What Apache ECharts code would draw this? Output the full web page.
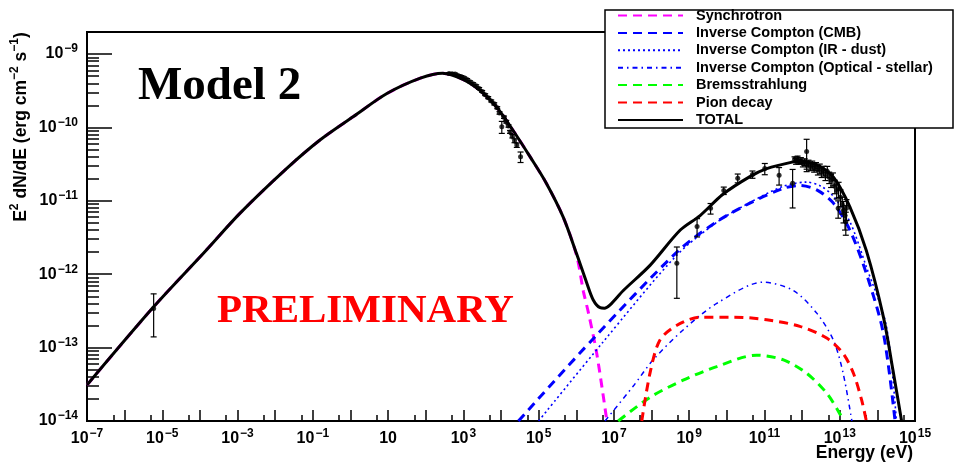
<!DOCTYPE html>
<html>
<head>
<meta charset="utf-8">
<script src="https://cdn.jsdelivr.net/npm/echarts@6/dist/echarts.min.js"></script>
<style>
  html, body { margin: 0; padding: 0; background: #fff; }
  #chart { width: 955px; height: 463px; }
</style>
</head>
<body>
<div id="chart"></div>
<script>
// Spectral energy distribution, model 2: energy in eV, E^2 dN/dE in erg cm^-2 s^-1

// Total model
const energyTotal = [1e-7, 5.9e-6, 1.26e-4, 1.17e-3, 2.0e-2, 0.158, 1.2, 9.3, 72, 280, 1000, 2750, 7600, 2.1e4, 5.9e4, 1.6e5, 4.5e5, 1.02e6, 1.9e6, 2.8e6, 4.3e6, 5.6e6, 7.8e6, 1.78e7, 9.1e7, 5.8e8, 1.95e9, 7.9e9, 4.1e10, 1.15e11, 5.8e11, 8.7e11, 2.45e12, 6.8e12, 1.86e13, 5.1e13, 1.45e14, 2.6e14, 4.4e14];
const fluxTotal = [3.1e-14, 3.6e-13, 1.95e-12, 6.8e-12, 2.75e-11, 6.8e-11, 1.41e-10, 2.9e-10, 4.7e-10, 5.5e-10, 4.5e-10, 3.2e-10, 1.9e-10, 9.1e-11, 4.0e-11, 1.74e-11, 6.0e-12, 1.9e-12, 7.6e-13, 4.5e-13, 3.5e-13, 3.45e-13, 3.8e-13, 6.0e-13, 1.32e-12, 4.0e-12, 6.3e-12, 1.23e-11, 2.14e-11, 2.75e-11, 3.4e-11, 3.45e-11, 3.1e-11, 2.1e-11, 8.3e-12, 2.1e-12, 2.6e-13, 4.9e-14, 1e-14];

// Synchrotron
const energySync = [1e-7, 5.9e-6, 1.26e-4, 1.17e-3, 2.0e-2, 0.158, 1.2, 9.3, 72, 280, 1000, 2750, 7600, 2.1e4, 5.9e4, 1.6e5, 4.5e5, 1.02e6, 1.55e6, 2.1e6, 3.5e6, 6.5e6];
const fluxSync = [3.1e-14, 3.6e-13, 1.95e-12, 6.8e-12, 2.75e-11, 6.8e-11, 1.41e-10, 2.9e-10, 4.7e-10, 5.5e-10, 4.5e-10, 3.2e-10, 1.9e-10, 9.1e-11, 4.0e-11, 1.74e-11, 6.0e-12, 1.8e-12, 5.8e-13, 3.0e-13, 8.3e-14, 1e-14];

// Inverse Compton on CMB
const energyCMB = [2.9e4, 3.16e6, 4.7e8, 5.4e9, 4.1e10, 3.2e11, 8.7e11, 2.45e12, 6.8e12, 1.86e13, 5.1e13, 1.45e14, 2.95e14];
const fluxCMB = [1e-14, 1.41e-13, 2.0e-12, 5.2e-12, 9.3e-12, 1.48e-11, 1.62e-11, 1.41e-11, 9.3e-12, 4.0e-12, 1.02e-12, 1.55e-13, 1e-14];

// Inverse Compton on IR dust photons
const energyIR = [1e5, 5.2e6, 4.6e8, 5.4e9, 4.1e10, 3.2e11, 1.32e12, 3.2e12, 6.8e12, 1.86e13, 5.1e13, 1.74e14, 3.2e14];
const fluxIR = [1e-14, 1.2e-13, 1.8e-12, 5.1e-12, 9.5e-12, 1.58e-11, 1.8e-11, 1.58e-11, 1.15e-11, 5.2e-12, 1.26e-12, 1.95e-13, 1e-14];

// Inverse Compton on optical stellar photons
const energyOpt = [5.8e6, 3.2e7, 1.1e8, 6.9e8, 5.4e9, 9.3e10, 5.8e11, 2.45e12, 6.8e12, 1.23e13, 2.1e13];
const fluxOpt = [1e-14, 2.95e-14, 6.8e-14, 1.74e-13, 4.0e-13, 7.8e-13, 6.0e-13, 2.95e-13, 1.26e-13, 4.5e-14, 1e-14];

// Bremsstrahlung
const energyBrems = [1.3e7, 9.1e7, 6.9e8, 5.4e9, 6.2e10, 3.2e11, 1.3e12, 4.5e12, 1e13, 1.23e13];
const fluxBrems = [1e-14, 2.1e-14, 3.6e-14, 5.5e-14, 7.9e-14, 6.8e-14, 4.5e-14, 2.4e-14, 1.26e-14, 1e-14];

// Pion decay
const energyPion = [5.5e7, 9.1e7, 1.66e8, 4.6e8, 1.95e9, 1.5e10, 1.15e11, 8.7e11, 4.5e12, 1.23e13, 2.3e13, 3.8e13, 5.1e13];
const fluxPion = [1e-14, 4.5e-14, 1.26e-13, 2.0e-13, 2.6e-13, 2.6e-13, 2.4e-13, 1.95e-13, 1.35e-13, 8.3e-14, 4.5e-14, 1.95e-14, 1e-14];

// Measurements: energy, flux, 1-sigma error
const radioE = [5.9e-6];
const radioF = [3.4e-13];
const radioErr = [2.0e-13];

const xrayE = [417, 501, 603, 724, 871, 1050, 1260, 1510, 1820, 2190, 2630, 3160, 3800, 4570, 5500, 6610, 7940, 9120, 10500, 12000, 13800, 15800, 17400, 20000, 22900, 26300, 33100];
const xrayF = [5.45e-10, 5.4e-10, 5.35e-10, 5.1e-10, 4.95e-10, 4.75e-10, 4.5e-10, 4.2e-10, 3.95e-10, 3.7e-10, 3.4e-10, 3.1e-10, 2.8e-10, 2.55e-10, 2.3e-10, 2.1e-10, 1.86e-10, 1.58e-10, 1.02e-10, 1.38e-10, 1.20e-10, 1.05e-10, 8.7e-11, 7.6e-11, 6.6e-11, 5.75e-11, 3.98e-11];
const xrayErr = [1.5e-11, 1.5e-11, 1.5e-11, 1.4e-11, 1.4e-11, 1.3e-11, 1.3e-11, 1.2e-11, 1.2e-11, 1.1e-11, 1.0e-11, 9e-12, 8e-12, 8e-12, 7e-12, 7e-12, 6e-12, 6e-12, 1.9e-11, 5e-12, 5e-12, 4e-12, 4e-12, 4e-12, 4e-12, 4e-12, 6.5e-12];

const gammaE = [4.7e8, 1.62e9, 3.7e9, 8.3e9, 1.95e10, 4.8e10, 1.02e11, 2.45e11, 5.6e11, 1.32e12];
const gammaF = [1.41e-12, 4.47e-12, 7.9e-12, 1.38e-11, 2.04e-11, 2.29e-11, 2.75e-11, 2.24e-11, 1.74e-11, 4.7e-11];
const gammaErr = [9.4e-13, 1.25e-12, 1.3e-12, 1.6e-12, 2.8e-12, 2.6e-12, 4.8e-12, 6e-12, 9.4e-12, 2.2e-11];

const tevE = [6.3e11, 6.9e11, 7.6e11, 8.3e11, 9.3e11, 1.05e12, 1.17e12, 1.32e12, 1.48e12, 1.66e12, 1.86e12, 2.09e12, 2.34e12, 2.63e12, 2.95e12, 3.31e12, 3.72e12, 4.17e12, 4.68e12, 5.25e12, 5.89e12, 6.61e12, 7.41e12, 8.32e12, 9.1e12, 9.33e12, 1.05e13, 1.17e13, 1.26e13, 1.38e13, 1.45e13, 1.51e13];
const tevF = [3.72e-11, 3.47e-11, 3.8e-11, 3.39e-11, 3.55e-11, 3.24e-11, 3.39e-11, 3.09e-11, 3.24e-11, 2.95e-11, 3.09e-11, 2.82e-11, 2.95e-11, 2.63e-11, 2.75e-11, 2.45e-11, 2.57e-11, 2.29e-11, 2.51e-11, 2.09e-11, 1.91e-11, 2.0e-11, 1.58e-11, 1.38e-11, 7.9e-12, 1.45e-11, 1.12e-11, 8.9e-12, 7.4e-12, 6.3e-12, 5.2e-12, 7.9e-12];
const tevErr = [2.6e-12, 3.2e-12, 2.7e-12, 2.4e-12, 3.3e-12, 3.4e-12, 3.5e-12, 3.9e-12, 3.4e-12, 3.7e-12, 3.9e-12, 3.6e-12, 3.7e-12, 3.8e-12, 4.2e-12, 3.7e-12, 3.9e-12, 4.0e-12, 4.4e-12, 3.7e-12, 3.9e-12, 4.0e-12, 3.3e-12, 3.2e-12, 2.1e-12, 3.4e-12, 2.9e-12, 2.3e-12, 2.4e-12, 2.3e-12, 1.8e-12, 2.5e-12];

// Axis ticks
const xMajorTicks = [1e-7, 1e-6, 1e-5, 1e-4, 1e-3, 1e-2, 1e-1, 1, 10, 100, 1e3, 1e4, 1e5, 1e6, 1e7, 1e8, 1e9, 1e10, 1e11, 1e12, 1e13, 1e14, 1e15];
const xMinorTicks = [5e-7, 5e-6, 5e-5, 5e-4, 5e-3, 5e-2, 0.5, 5, 50, 500, 5e3, 5e4, 5e5, 5e6, 5e7, 5e8, 5e9, 5e10, 5e11, 5e12, 5e13, 5e14];
const xTickLabels = [1e-7, 1e-5, 1e-3, 1e-1, 10, 1e3, 1e5, 1e7, 1e9, 1e11, 1e13, 1e15];
const yMajorTicks = [1e-14, 1e-13, 1e-12, 1e-11, 1e-10, 1e-9];
const yMinorTicks = [
  2e-14, 3e-14, 4e-14, 5e-14, 6e-14, 7e-14, 8e-14, 9e-14,
  2e-13, 3e-13, 4e-13, 5e-13, 6e-13, 7e-13, 8e-13, 9e-13,
  2e-12, 3e-12, 4e-12, 5e-12, 6e-12, 7e-12, 8e-12, 9e-12,
  2e-11, 3e-11, 4e-11, 5e-11, 6e-11, 7e-11, 8e-11, 9e-11,
  2e-10, 3e-10, 4e-10, 5e-10, 6e-10, 7e-10, 8e-10, 9e-10
];
const yTickLabels = [1e-14, 1e-13, 1e-12, 1e-11, 1e-10, 1e-9];

// Axis ranges (edges nudged so the end ticks survive rounding)
const xRange = [1e-7, 1.0000001e15];
const yRange = [0.9999999e-14, 2e-9];

const FONT = 'Liberation Sans';

function pairs(xs, ys) { return xs.map((x, i) => [x, ys[i]]); }
function bars(xs, ys, es) { return xs.map((x, i) => [x, ys[i] - es[i], ys[i] + es[i]]); }

function powerLabel(v) {
  const n = Math.round(Math.log10(v));
  if (n === 1) return '{b|10}';
  return '{b|10}{s|' + (n < 0 ? '\u2212' : '') + Math.abs(n) + '}';
}
const labelRich = {
  b: { fontFamily: FONT, fontWeight: 'bold', fontSize: 16, lineHeight: 22, color: '#000' },
  s: { fontFamily: FONT, fontWeight: 'bold', fontSize: 12, lineHeight: 11, verticalAlign: 'top', color: '#000', padding: [0, 0, 0, 1] }
};

function errorBarItem(params, api) {
  const x = api.value(0);
  const top = api.coord([x, api.value(2)]);
  const bot = api.coord([x, api.value(1)]);
  const cap = 3;
  const st = { stroke: '#000', lineWidth: 1.2 };
  return {
    type: 'group',
    children: [
      { type: 'line', shape: { x1: top[0], y1: top[1], x2: bot[0], y2: bot[1] }, style: st },
      { type: 'line', shape: { x1: top[0] - cap, y1: top[1], x2: top[0] + cap, y2: top[1] }, style: st },
      { type: 'line', shape: { x1: bot[0] - cap, y1: bot[1], x2: bot[0] + cap, y2: bot[1] }, style: st }
    ]
  };
}

function modelLine(name, xs, ys, color, width, type, z) {
  return {
    name: name, type: 'line', data: pairs(xs, ys), symbol: 'none', smooth: 0.3,
    clip: true, z: z,
    lineStyle: { color: color, width: width, type: type },
    itemStyle: { color: color }
  };
}

const allE = radioE.concat(xrayE, gammaE, tevE);
const allF = radioF.concat(xrayF, gammaF, tevF);
const allErr = radioErr.concat(xrayErr, gammaErr, tevErr);

const chart = echarts.init(document.getElementById('chart'), null, { renderer: 'canvas' });
chart.setOption({
  animation: false,
  backgroundColor: '#fff',
  grid: { left: 87, right: 40, top: 32, bottom: 42, show: true, borderColor: '#000', borderWidth: 2, backgroundColor: '#fff' },
  xAxis: [
    {
      type: 'log', logBase: 10, min: xRange[0], max: xRange[1], position: 'bottom',
      axisLine: { show: true, lineStyle: { color: '#000', width: 2 } },
      axisTick: { show: true, inside: true, length: 11, customValues: xMajorTicks, lineStyle: { color: '#000', width: 1.5 } },
      axisLabel: { show: true, margin: 7, customValues: xTickLabels, formatter: powerLabel, rich: labelRich, hideOverlap: false },
      splitLine: { show: false }, minorTick: { show: false }
    },
    {
      type: 'log', logBase: 10, min: xRange[0], max: xRange[1], position: 'bottom',
      axisLine: { show: false },
      axisTick: { show: true, inside: true, length: 6, customValues: xMinorTicks, lineStyle: { color: '#000', width: 1.5 } },
      axisLabel: { show: false }, splitLine: { show: false }
    }
  ],
  yAxis: [
    {
      type: 'log', logBase: 10, min: yRange[0], max: yRange[1], position: 'left',
      axisLine: { show: true, lineStyle: { color: '#000', width: 2 } },
      axisTick: { show: true, inside: true, length: 25, customValues: yMajorTicks, lineStyle: { color: '#000', width: 1.5 } },
      axisLabel: { show: true, margin: 9, customValues: yTickLabels, formatter: powerLabel, rich: labelRich },
      splitLine: { show: false }, minorTick: { show: false }
    },
    {
      type: 'log', logBase: 10, min: yRange[0], max: yRange[1], position: 'left',
      axisLine: { show: false },
      axisTick: { show: true, inside: true, length: 12, customValues: yMinorTicks, lineStyle: { color: '#000', width: 1.5 } },
      axisLabel: { show: false }, splitLine: { show: false }
    }
  ],
  legend: {
    left: 617, top: 8, orient: 'vertical', padding: 0,
    itemWidth: 65, itemHeight: 14, itemGap: 2.4, selectedMode: false, z: 11,
    itemStyle: { opacity: 0 },
    data: ['Synchrotron', 'Inverse Compton (CMB)', 'Inverse Compton (IR - dust)', 'Inverse Compton (Optical - stellar)', 'Bremsstrahlung', 'Pion decay', 'TOTAL'],
    textStyle: { fontFamily: FONT, fontWeight: 'bold', fontSize: 14.5, color: '#000', lineHeight: 14, padding: [0, 0, 0, 8] }
  },
  graphic: [
    { type: 'rect', z: 10, shape: { x: 605, y: 10, width: 348, height: 118 }, style: { fill: '#fff', stroke: '#000', lineWidth: 1.5 } },
    { type: 'text', z: 10, x: 138, y: 87, style: { text: 'Model 2', fontFamily: 'Liberation Serif', fontWeight: 'bold', fontSize: 47, fill: '#000', verticalAlign: 'middle' } },
    { type: 'text', z: 10, x: 217, y: 311, style: { text: 'PRELIMINARY', fontFamily: 'Liberation Serif', fontWeight: 'bold', fontSize: 41, fill: '#ff0000', verticalAlign: 'middle' } },
    { type: 'text', z: 10, x: 913, y: 453, style: { text: 'Energy (eV)', fontFamily: FONT, fontWeight: 'bold', fontSize: 17.5, fill: '#000', align: 'right', verticalAlign: 'middle' } },
    {
      type: 'text', z: 10, x: 21, y: 127, rotation: Math.PI / 2,
      style: {
        text: '{t|E}{s|2}{t| dN/dE (erg cm}{s|\u22122}{t| s}{s|\u22121}{t|)}',
        align: 'center', verticalAlign: 'middle',
        rich: {
          t: { fontFamily: FONT, fontWeight: 'bold', fontSize: 17.5, lineHeight: 24, fill: '#000' },
          s: { fontFamily: FONT, fontWeight: 'bold', fontSize: 12, lineHeight: 12, verticalAlign: 'top', fill: '#000' }
        }
      }
    }
  ],
  series: [
    modelLine('Synchrotron', energySync, fluxSync, '#ff00ff', 3, [9, 6], 3),
    modelLine('Inverse Compton (CMB)', energyCMB, fluxCMB, '#0000ff', 3, [9, 6], 3),
    modelLine('Inverse Compton (IR - dust)', energyIR, fluxIR, '#0000ff', 1.6, [2, 3], 3),
    modelLine('Inverse Compton (Optical - stellar)', energyOpt, fluxOpt, '#0000ff', 1.5, [5, 4, 1.5, 4], 3),
    modelLine('Bremsstrahlung', energyBrems, fluxBrems, '#00ff00', 3, [9, 6], 3),
    modelLine('Pion decay', energyPion, fluxPion, '#ff0000', 3, [9, 6], 3),
    modelLine('TOTAL', energyTotal, fluxTotal, '#000000', 3, 'solid', 4),
    {
      name: 'errors', type: 'custom', renderItem: errorBarItem, data: bars(allE, allF, allErr),
      encode: { x: 0, y: [1, 2] }, z: 5, clip: true
    },
    {
      name: 'points', type: 'scatter', data: pairs(allE, allF), symbol: 'circle', symbolSize: 5,
      itemStyle: { color: '#000' }, z: 6
    }
  ]
});
</script>
</body>
</html>
